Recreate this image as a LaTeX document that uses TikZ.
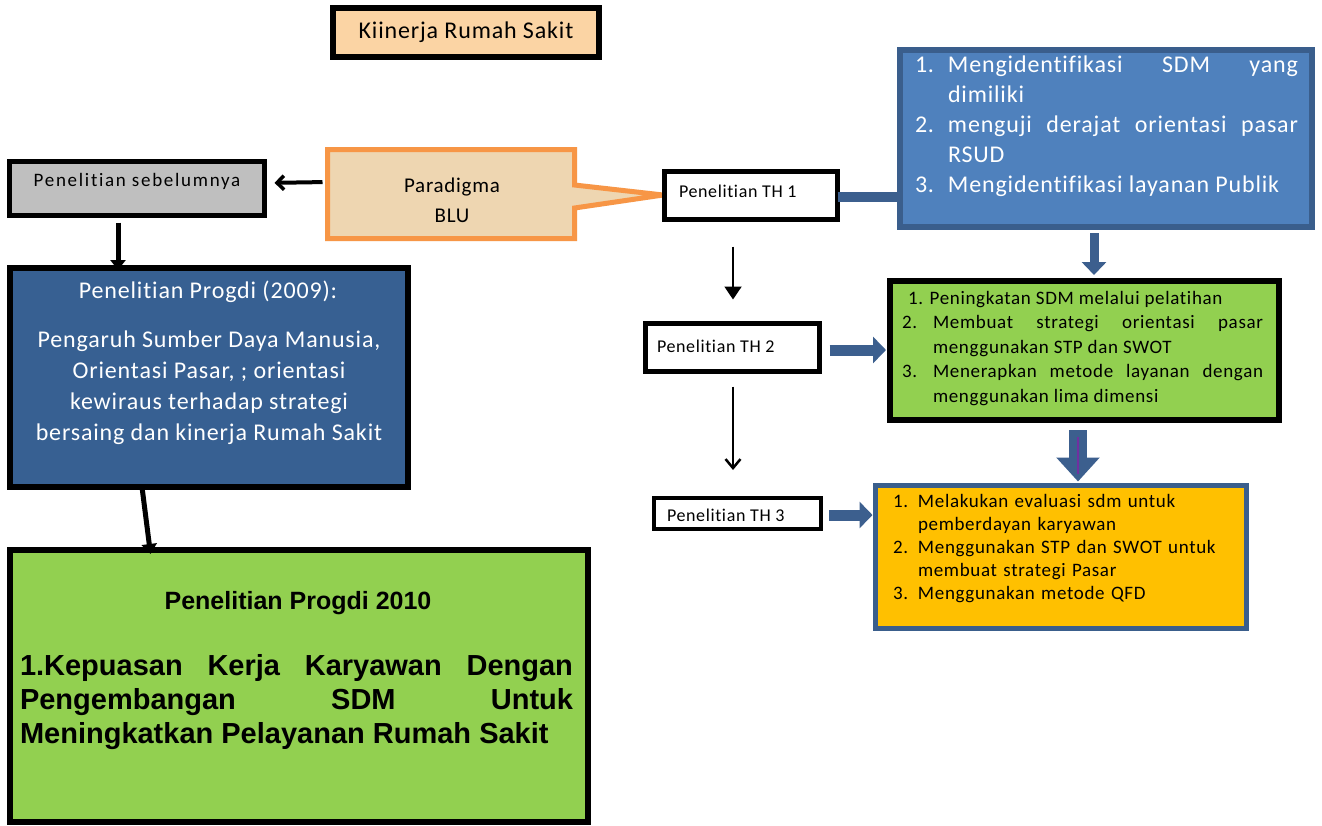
\documentclass[tikz,border=0pt]{standalone}
\usepackage{fontspec}
\setmainfont{Carlito}[LetterSpace=3.5, Ligatures=NoCommon]
\newfontfamily\widefont{Carlito}[LetterSpace=9, Ligatures=NoCommon]
\newfontfamily\arialfont{Liberation Sans}
\usetikzlibrary{arrows.meta,calc}
\definecolor{peach}{HTML}{FBD4A4}
\definecolor{paratan}{HTML}{EED6B1}
\definecolor{orangeline}{HTML}{F79646}
\definecolor{bluefill}{HTML}{4F81BD}
\definecolor{blueline}{HTML}{3A5E8C}
\definecolor{darkblue}{HTML}{376092}
\definecolor{lgreen}{HTML}{92D050}
\definecolor{gold}{HTML}{FFC000}
\definecolor{grayfill}{HTML}{BFBFBF}
\definecolor{arrowblue}{HTML}{3C5F8E}
\definecolor{purpleline}{HTML}{7030A0}
\newcommand\litem[3]{\par\hangindent=#1\hangafter=1\noindent\hbox to #1{#2\hfil}\ignorespaces#3}
\tikzset{
  bx/.style={rectangle, inner sep=0pt, outer sep=0pt},
  blackbox/.style={bx, draw=black, line width=5pt},
  thbox/.style={blackbox, fill=white},
  txt/.style={inner sep=0pt, outer sep=0pt},
  barrow/.style={draw=arrowblue, line width=11pt, -{Triangle[width=26pt,length=13pt]}},
  bigbarrow/.style={draw=arrowblue, line width=18pt, -{Triangle[width=42pt,length=24pt]}},
  thinarrow/.style={draw=black, line width=2pt, -{Triangle[width=17pt,length=13pt]}},
  thinopen/.style={draw=black, line width=2pt, -{Straight Barb[width=15pt,length=9pt,line width=2.5pt]}},
  thickarrow/.style={draw=black, line width=5pt, -{Triangle[width=15pt,length=10pt]}},
  thickopen/.style={draw=black, line width=4pt, -{Straight Barb[width=14pt,length=7pt,line width=3.5pt]}}
}
\begin{document}
\begin{tikzpicture}[x=1pt,y=-1pt]
\useasboundingbox (0,0) rectangle (1322,825);
\fill[white] (0,0) rectangle (1322,825);

% title
\node[bx, draw=black, line width=6pt, fill=peach, minimum width=266pt, minimum height=49pt,
      font=\fontsize{24}{28}\selectfont] (title) at (466,32.5) {Kiinerja Rumah Sakit};

% Paradigma callout
\coordinate (tip) at (663,195);
\node[bx, minimum width=247pt, minimum height=89pt] (para) at (451,194) {};
\filldraw[fill=paratan, draw=orangeline, line width=5pt, miter limit=20]
  (para.north west) -- (para.north east) -- ($(para.east)+(0,-9)$) -- (tip)
  -- ($(para.east)+(0,14)$) -- (para.south east) -- (para.south west) -- cycle;
\node[txt, align=center, font=\fontsize{21}{30}\selectfont] (paratext) at (452,200) {Paradigma\\BLU};

% Penelitian TH boxes
\node[thbox, minimum width=173pt, minimum height=48pt] (th1) at (751,195.5) {};
\node[txt, anchor=west, font=\fontsize{18}{22}\selectfont] (th1text) at (679,191) {Penelitian TH 1};
\node[thbox, minimum width=174pt, minimum height=48pt] (th2) at (732.5,347.5) {};
\node[txt, anchor=west, font=\fontsize{18}{22}\selectfont] (th2text) at (657,346) {Penelitian TH 2};
\node[thbox, line width=4pt, minimum width=167pt, minimum height=31pt] (th3) at (737.5,513.5) {};
\node[txt, anchor=west, font=\fontsize{18}{22}\selectfont] (th3text) at (667,515) {Penelitian TH 3};

% right blue box
\node[bx, draw=blueline, fill=bluefill, line width=6pt, minimum width=412pt, minimum height=177pt] (bluer) at (1106,138.5) {};
\node[txt, anchor=north west, text width=383pt, align=justify, text=white,
      font=\fontsize{24}{30}\selectfont] (blurtext) at (915,42)
  {\litem{33pt}{1.}{Mengidentifikasi SDM yang\linebreak dimiliki}%
   \litem{33pt}{2.}{menguji derajat orientasi pasar\linebreak RSUD}%
   \litem{33pt}{3.}{Mengidentifikasi layanan Publik}\par};

% connector TH1 -> blue box
\draw[draw=arrowblue, line width=10pt] (th1.east |- 0,197) -- (bluer.west |- 0,197);

% right green box
\node[bx, draw=black, fill=lgreen, line width=6pt, minimum width=389pt, minimum height=139pt] (greenr) at (1084.5,350.5) {};
\node[txt, anchor=north west, text width=361pt, align=justify,
      font=\fontsize{19}{24.5}\selectfont] (greenrtext) at (902,291)
  {\noindent\hspace*{6pt}1. Peningkatan SDM melalui pelatihan\par
   \litem{31pt}{2.}{Membuat strategi orientasi pasar\linebreak menggunakan STP dan SWOT}%
   \litem{31pt}{3.}{Menerapkan metode layanan dengan\linebreak menggunakan lima dimensi}\par};

% orange box
\node[bx, draw=blueline, fill=gold, line width=5pt, minimum width=371pt, minimum height=143pt] (orange) at (1061,557) {};
\node[txt, anchor=north west, text width=340pt, align=left,
      font=\fontsize{19}{23}\selectfont] (orangetext) at (893,484)
  {\litem{25pt}{1.}{Melakukan evaluasi sdm untuk\linebreak pemberdayan karyawan}%
   \litem{25pt}{2.}{Menggunakan STP dan SWOT untuk\linebreak membuat strategi Pasar}%
   \litem{25pt}{3.}{Menggunakan metode QFD}\par};

% blue arrows
\draw[barrow, shorten <=10pt, shorten >=4pt] (th2.east |- 0,350) -- (greenr.west |- 0,350);
\draw[barrow, shorten <=8pt, shorten >=3pt] (th3.east |- 0,515) -- (orange.west |- 0,515);
\draw[draw=arrowblue, line width=9pt, -{Triangle[width=24pt,length=13pt]}, shorten <=6pt, shorten >=6pt]
  (bluer.south -| 1094,0) -- (greenr.north -| 1094,0);
\draw[bigbarrow, shorten <=10pt, shorten >=4pt] (greenr.south -| 1078,0) -- (orange.north -| 1078,0);
\draw[draw=purpleline, line width=1.2pt, shorten <=17pt, shorten >=12pt] (greenr.south -| 1078,0) -- (orange.north -| 1078,0);

% thin black arrows
\draw[thinarrow, shorten <=27pt, shorten >=24pt] (th1.south -| 733,0) -- (th2.north -| 733,0);
\draw[thinopen, shorten <=15pt, shorten >=28pt] (th2.south -| 733,0) -- (th3.north -| 733,0);

% left side
\node[bx, draw=black, fill=grayfill, line width=5pt, minimum width=255pt, minimum height=54pt] (sebel) at (137,188.5) {};
\node[txt, font=\widefont\fontsize{19}{23}\selectfont] (sebeltext) at (137,181) {Penelitian sebelumnya};

\node[bx, draw=black, fill=darkblue, line width=6pt, minimum width=398pt, minimum height=219pt] (bluel) at (209,377.5) {};
\node[txt, text=white, font=\fontsize{24}{31}\selectfont] (bluelhead) at (208,292) {Penelitian Progdi (2009):};
\node[txt, text=white, align=center, font=\fontsize{24}{31}\selectfont] (bluelbody) at (209,388)
  {Pengaruh Sumber Daya Manusia,\\Orientasi Pasar, ; orientasi\\kewiraus terhadap strategi\\bersaing dan kinerja Rumah Sakit};

\node[bx, draw=black, fill=lgreen, line width=6pt, minimum width=578pt, minimum height=272pt] (greenb) at (299,686) {};
\node[txt, font=\arialfont\bfseries\fontsize{25}{30}\selectfont] (greenbhead) at (298,603) {Penelitian Progdi 2010};
\node[txt, anchor=north west, text width=553pt, align=justify,
      font=\arialfont\bfseries\fontsize{29}{34}\selectfont] (greenbbody) at (20,654)
  {\tolerance=10000\hbadness=10000 1.Kepuasan Kerja Karyawan Dengan\linebreak Pengembangan SDM Untuk\linebreak Meningkatkan Pelayanan Rumah Sakit\par};

% black arrows left
\draw[thickopen, shorten <=5pt, shorten >=10pt] (para.west |- 0,182) -- (sebel.east |- 0,183);
\draw[thickarrow, shorten <=7pt, shorten >=-2pt] (sebel.south -| 118,0) -- (bluel.north -| 118,0);
\draw[thickarrow, shorten <=0pt, shorten >=-4pt] (bluel.south -| 142,0) -- (greenb.north -| 150,0);
\end{tikzpicture}
\end{document}
